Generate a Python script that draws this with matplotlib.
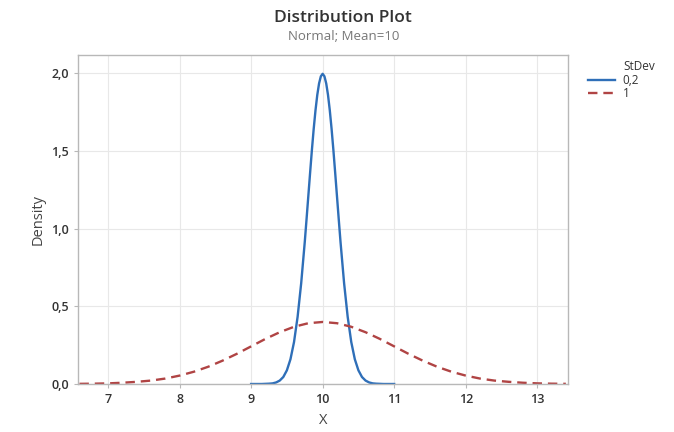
import matplotlib.pyplot as plt
from matplotlib.ticker import FuncFormatter

# Normal densities, mean = 10
x_sd02 = [9.00, 9.05, 9.10, 9.15, 9.20, 9.25, 9.30, 9.35, 9.40, 9.45, 9.50,
          9.55, 9.60, 9.65, 9.70, 9.75, 9.775, 9.80, 9.825, 9.85, 9.875, 9.90,
          9.925, 9.95, 9.975, 10.00, 10.025, 10.05, 10.075, 10.10, 10.125,
          10.15, 10.175, 10.20, 10.225, 10.25, 10.30, 10.35, 10.40, 10.45, 10.50,
          10.55, 10.60, 10.65, 10.70, 10.75, 10.80, 10.85, 10.90, 10.95, 11.00]
y_sd02 = [0.000, 0.000, 0.000, 0.000, 0.001, 0.002, 0.004, 0.010, 0.022, 0.045, 0.088,
          0.159, 0.270, 0.432, 0.648, 0.913, 1.060, 1.210, 1.360, 1.506, 1.641, 1.760,
          1.859, 1.933, 1.979, 1.995, 1.979, 1.933, 1.859, 1.760, 1.641,
          1.506, 1.360, 1.210, 1.060, 0.913, 0.648, 0.432, 0.270, 0.159, 0.088,
          0.045, 0.022, 0.010, 0.004, 0.002, 0.001, 0.000, 0.000, 0.000, 0.000]

x_sd1 = [6.6, 6.8, 7.0, 7.2, 7.4, 7.6, 7.8, 8.0, 8.2, 8.4, 8.6, 8.8, 9.0, 9.2, 9.4,
         9.6, 9.8, 10.0, 10.2, 10.4, 10.6, 10.8, 11.0, 11.2, 11.4, 11.6, 11.8,
         12.0, 12.2, 12.4, 12.6, 12.8, 13.0, 13.2, 13.4]
y_sd1 = [0.001, 0.002, 0.004, 0.008, 0.014, 0.022, 0.035, 0.054, 0.079, 0.111,
         0.150, 0.194, 0.242, 0.290, 0.333, 0.368, 0.391, 0.399, 0.391, 0.368,
         0.333, 0.290, 0.242, 0.194, 0.150, 0.111, 0.079, 0.054, 0.035, 0.022,
         0.014, 0.008, 0.004, 0.002, 0.001]

x_ticks = [7, 8, 9, 10, 11, 12, 13]
y_ticks = [0.0, 0.5, 1.0, 1.5, 2.0]

plt.rcParams["font.family"] = ["Open Sans", "DejaVu Sans"]

fig = plt.figure(figsize=(6.74, 4.32), dpi=100)
ax = fig.add_axes([78 / 674, 1 - 384 / 432, 490 / 674, 329 / 432])

ax.plot(x_sd02, y_sd02, color="#2f6fb8", lw=1.7, label="0,2")
ax.plot(x_sd1, y_sd1, color="#b04444", lw=1.7, ls=(0, (4, 2.5)), label="1")

ax.set_xlim(6.58, 13.43)
ax.set_ylim(0, 2.116)
ax.set_xticks(x_ticks)
ax.set_yticks(y_ticks)
ax.yaxis.set_major_formatter(FuncFormatter(lambda v, p: f"{v:.1f}".replace(".", ",")))
ax.grid(True, color="#e8e8e8", lw=0.8)
ax.set_axisbelow(True)

for s in ax.spines.values():
    s.set_color("#b8b8b8")
    s.set_linewidth(1.0)
ax.tick_params(axis="both", colors="#b8b8b8", labelcolor="#333333", labelsize=9, length=3)
for lab in ax.get_xticklabels() + ax.get_yticklabels():
    lab.set_fontweight("semibold")

ax.set_xlabel("X", fontsize=10.5, color="#444444", labelpad=5)
ax.set_ylabel("Density", fontsize=10.5, color="#444444", labelpad=4)

fig.text(343 / 674, 1 - 18 / 432, "Distribution Plot", ha="center", va="center",
         fontsize=12.5, fontweight="semibold", color="#333333")
fig.text(344 / 674, 1 - 36 / 432, "Normal; Mean=10", ha="center", va="center",
         fontsize=9.5, color="#777777")

# legend: title sits above the labels, not the handles
fig.text(623 / 674, 1 - 66 / 432, "StDev", ha="left", va="center", fontsize=8.5, color="#333333")
leg = ax.legend(loc="upper left", bbox_to_anchor=((588 - 78) / 490, (384 - 74) / 329),
                frameon=False, fontsize=8.5, handlelength=2.3, handletextpad=0.65,
                labelspacing=0.0, borderaxespad=0, borderpad=0)
for t in leg.get_texts():
    t.set_color("#333333")

fig.savefig("out.png", dpi=100)
